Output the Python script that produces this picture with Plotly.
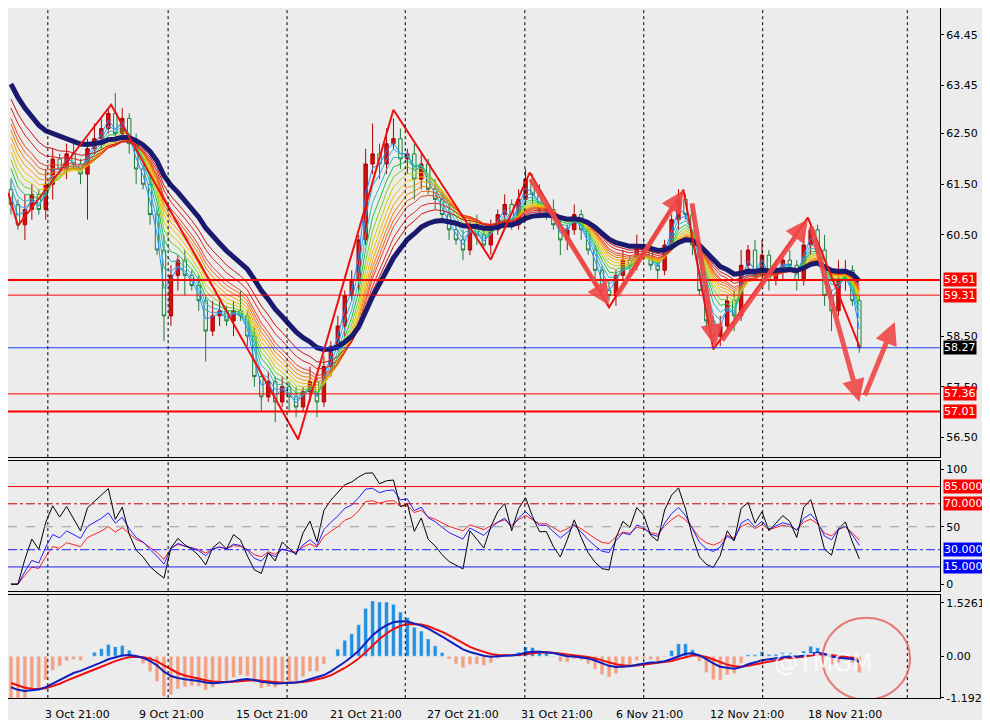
import plotly.graph_objects as go
from plotly.subplots import make_subplots
import numpy as np

history = [65.6, 65.4, 65.2, 65.0, 64.9, 64.7, 64.6, 64.4, 64.3, 64.0, 63.8, 63.5, 63.1, 62.7, 62.2, 61.7, 61.4]
closes = [61.1,60.7,61.0,61.3,61.0,61.5,62.0,61.8,62.1,61.9,61.7,62.2,62.4,62.6,62.9,62.5,62.8,62.3,61.8,61.5,
          60.9,60.2,58.9,59.7,60.0,59.7,59.5,59.2,58.6,58.9,59.0,58.8,59.0,58.9,58.5,57.7,57.3,57.6,57.2,57.5,
          57.3,57.1,57.4,57.6,57.2,57.9,58.3,58.7,59.3,59.6,60.4,61.9,62.1,61.9,62.3,62.4,62.0,62.1,61.6,61.9,
          61.4,61.2,60.9,60.6,60.4,60.2,60.7,60.5,60.3,60.6,60.9,61.1,60.7,61.2,61.6,61.3,61.0,61.0,60.7,60.4,
          60.6,60.9,60.6,60.2,59.8,59.4,59.3,59.7,60.0,59.9,60.3,60.2,59.9,59.8,60.3,60.8,61.2,60.9,60.3,59.4,
          58.8,58.5,58.7,59.2,58.9,59.9,60.2,59.7,60.1,59.6,59.8,60.0,59.9,59.6,60.3,60.6,60.2,59.3,59.0,59.6,
          59.8,59.2,58.27]
upper_wick = [0.2,0.1,0.3,0.2,0.1,0.3,0.2,0.1,0.2,0.3,0.1,0.2,0.3,0.2,0.1,0.4,0.2,0.1,0.2,0.1,
              0.2,0.1,0.3,0.2,0.1,0.2,0.1,0.2,0.1,0.3,0.2,0.1,0.2,0.4,0.1,0.2,0.1,0.2,0.1,0.2,
              0.1,0.2,0.1,0.3,0.1,0.2,0.1,0.2,0.1,0.2,0.1,0.3,0.6,0.2,0.3,0.4,0.2,0.1,0.2,0.2,
              0.1,0.2,0.1,0.2,0.1,0.2,0.1,0.2,0.1,0.2,0.1,0.2,0.1,0.2,0.2,0.1,0.2,0.1,0.2,0.1,
              0.1,0.2,0.1,0.1,0.1,0.1,0.2,0.1,0.2,0.1,0.2,0.1,0.2,0.1,0.1,0.1,0.2,0.1,0.2,0.1,
              0.2,0.1,0.2,0.1,0.2,0.3,0.1,0.2,0.3,0.1,0.2,0.1,0.2,0.1,0.2,0.1,0.1,0.3,0.1,0.4,
              0.2,0.1,0.1]
lower_wick = [0.2,0.1,0.3,0.2,0.1,0.2,0.3,0.1,0.2,0.1,0.2,0.9,0.1,0.2,0.1,0.2,0.1,0.2,0.3,0.1,
              0.2,0.1,0.5,0.2,0.3,0.4,0.1,0.2,0.6,0.1,0.2,0.1,0.3,0.1,0.2,0.2,0.3,0.1,0.4,0.1,
              0.3,0.2,0.1,0.2,0.3,0.1,0.2,0.1,0.2,0.1,0.2,0.1,0.2,0.3,0.2,0.1,0.2,0.3,0.4,0.2,
              0.1,0.2,0.1,0.2,0.1,0.2,0.1,0.2,0.1,0.2,0.1,0.2,0.1,0.1,0.1,0.2,0.1,0.2,0.1,0.3,
              0.2,0.1,0.2,0.1,0.2,0.1,0.1,0.2,0.1,0.2,0.1,0.2,0.1,0.2,0.1,0.1,0.2,0.1,0.2,0.1,
              0.2,0.1,0.2,0.1,0.3,0.1,0.2,0.1,0.2,0.2,0.1,0.2,0.1,0.2,0.1,0.2,0.1,0.2,0.4,0.1,
              0.2,0.1,0.1]

zigzag_x = [-0.4, 1, 14.4, 41.3, 55, 69, 74.6, 86, 96.7, 101, 114.6, 122.1]
zigzag_y = [61.33, 60.68, 63.07, 56.46, 62.97, 60.01, 61.73, 59.07, 61.39, 58.24, 60.84, 58.27]
arrows = [((74.6, 61.63), (86, 59.11)), ((87, 59.27), (96.7, 61.38)), ((97.9, 61.15), (101.3, 58.29)),
          ((102.1, 58.39), (114.6, 60.81)), ((115, 60.69), (122, 57.2)), ((122.7, 57.3), (127.1, 58.78))]
levels = [(59.61, 2, "red"), (59.31, 1, "red"), (58.27, 1, "#2040ff"), (57.36, 1, "red"), (57.01, 2, "red")]
level_labels = [(59.61, "#ff0000"), (59.31, "#ff0000"), (58.27, "#000000"), (57.36, "#ff0000"), (57.01, "#ff0000")]
price_ticks = [64.45, 63.45, 62.50, 61.50, 60.50, 58.50, 57.50, 56.50]
date_pos = [4.6, 18.1, 32, 45.6, 59.6, 73.1, 86.7, 100.3, 114.3]
date_labels = ["3 Oct 21:00", "9 Oct 21:00", "15 Oct 21:00", "21 Oct 21:00", "27 Oct 21:00",
               "31 Oct 21:00", "6 Nov 21:00", "12 Nov 21:00", "18 Nov 21:00"]
grid_pos = [5.3, 22.6, 39.7, 56.7, 73.9, 91, 108.1, 128.9]
ribbon_periods = [2, 3, 4, 5, 6, 7, 8, 9, 10, 11, 12, 14, 16]
ribbon_colors = ["#1e90ff", "#3aa0e0", "#20c0c0", "#20c040", "#7ad020", "#c8d000", "#f0c000",
                 "#f8a000", "#f08000", "#f06020", "#e84020", "#e02020", "#c81010"]
slow_period = 20

n = len(closes)
xs = np.arange(n)
full = np.array(history + closes)
opens = [history[-1]] + closes[:-1]
highs = [max(o, c) + u for o, c, u in zip(opens, closes, upper_wick)]
lows = [min(o, c) - l for o, c, l in zip(opens, closes, lower_wick)]

def ema(a, p):
    k = 2 / (p + 1); out = [a[0]]
    for v in a[1:]:
        out.append(out[-1] + k * (v - out[-1]))
    return np.array(out)

def rsi(a, p):
    d = np.diff(a); g = np.clip(d, 0, None); l = np.clip(-d, 0, None)
    ag, al = g[:p].mean(), l[:p].mean(); out = [np.nan] * (p + 1)
    for i in range(p, len(d)):
        ag = (ag * (p - 1) + g[i]) / p; al = (al * (p - 1) + l[i]) / p
        out.append(100 - 100 / (1 + ag / al) if al > 0 else 100)
    return np.array(out[:len(a)])

h = len(history)
fig = make_subplots(rows=3, cols=1, shared_xaxes=True, vertical_spacing=0.006,
                    row_heights=[450, 130, 103])
for p, c in zip(ribbon_periods, ribbon_colors):
    fig.add_trace(go.Scatter(x=xs, y=ema(full, p)[h:], mode="lines", line=dict(color=c, width=1)), 1, 1)
fig.add_trace(go.Scatter(x=xs, y=ema(full, slow_period)[h:], mode="lines",
                         line=dict(color="#1a1a6e", width=5)), 1, 1)
fig.add_trace(go.Candlestick(x=xs, open=opens, high=highs, low=lows, close=closes,
                             increasing=dict(line=dict(color="#b00000", width=1), fillcolor="#d01010"),
                             decreasing=dict(line=dict(color="#1f7a3a", width=1), fillcolor="#e8f4e8"),
                             whiskerwidth=0), 1, 1)
fig.add_trace(go.Scatter(x=zigzag_x, y=zigzag_y, mode="lines", line=dict(color="#ee1010", width=2)), 1, 1)
for y, w, c in levels:
    fig.add_hline(y=y, line=dict(color=c, width=w), row=1, col=1)

# RSI panel
for p, c in [(14, "#ff2020"), (9, "#2020ff"), (4, "#000000")]:
    fig.add_trace(go.Scatter(x=xs, y=rsi(full, p)[h:], mode="lines", line=dict(color=c, width=1)), 2, 1)
for y, c, d in [(85, "red", "solid"), (70, "#c00000", "dashdot"), (50, "#999999", "dash"),
                (30, "#2020ff", "dashdot"), (15, "#2020ff", "solid")]:
    fig.add_hline(y=y, line=dict(color=c, width=1, dash=d), row=2, col=1)

# MACD panel
macd = ema(full, 4) - ema(full, 13)
line_b = ema(ema(full, 8) - ema(full, 17), 3)
line_r = ema(line_b, 4)
hv = macd[h:]
fig.add_trace(go.Bar(x=xs, y=hv, marker_color=["#2090e0" if v >= 0 else "#f4a080" for v in hv],
                     width=0.55), 3, 1)
fig.add_trace(go.Scatter(x=xs, y=line_r[h:], mode="lines", line=dict(color="#ee1010", width=2)), 3, 1)
fig.add_trace(go.Scatter(x=xs, y=line_b[h:], mode="lines", line=dict(color="#1020c0", width=2)), 3, 1)

for (x0, y0), (x1, y1) in arrows:
    fig.add_annotation(x=x1, y=y1, ax=x0, ay=y0, xref="x", yref="y", axref="x", ayref="y",
                       showarrow=True, arrowhead=2, arrowsize=0.9, arrowwidth=5,
                       arrowcolor="rgba(240,70,70,0.9)", text="")
for y, c in level_labels:
    fig.add_annotation(x=1.003, xref="paper", y=y, yref="y", text=f"{y:.2f}", showarrow=False,
                       xanchor="left", bgcolor=c, font=dict(color="white", size=11, family="DejaVu Sans"),
                       borderpad=0)
for y, c, t in [(85, "#ff0000", "85.0000"), (70, "#ff0000", "70.0000"), (30, "#0000ff", "30.0000"), (15, "#0000ff", "15.0000")]:
    fig.add_annotation(x=1.003, xref="paper", y=y, yref="y2", text=t, showarrow=False, xanchor="left",
                       bgcolor=c, font=dict(color="white", size=11, family="DejaVu Sans"), borderpad=0)
for p, t in zip(date_pos, date_labels):
    fig.add_annotation(x=p, xref="x3", y=-0.012, yref="paper", text=t, showarrow=False,
                       xanchor="left", yanchor="top", font=dict(size=11, color="black", family="DejaVu Sans"))
fig.add_annotation(x=-0.5, xref="x3", y=-0.012, yref="paper", text="00", showarrow=False,
                   xanchor="left", yanchor="top", font=dict(size=11, color="black", family="DejaVu Sans"))
for g in grid_pos:
    for r in (1, 2, 3):
        fig.add_vline(x=g, line=dict(color="black", width=1, dash="dot"), row=r, col=1)
fig.add_shape(type="circle", xref="x3", yref="y3", x0=116.7, x1=129.3, y0=-1.25, y1=1.1,
              line=dict(color="rgba(230,90,90,0.8)", width=2))
fig.add_annotation(x=0.93, xref="paper", y=0.028, yref="paper", text="@TMGM", showarrow=False,
                   font=dict(size=24, color="rgba(255,255,255,0.8)", family="DejaVu Sans"))

ax_style = dict(side="right", showgrid=False, ticks="outside", ticklen=3, tickcolor="black",
                showline=True, linecolor="black", mirror=True, zeroline=False,
                tickfont=dict(size=11, color="black", family="DejaVu Sans"))
fig.update_yaxes(**ax_style)
fig.update_yaxes(range=[56.11, 64.98], tickvals=price_ticks, ticktext=[f"{v:.2f}" for v in price_ticks], row=1, col=1)
fig.update_yaxes(range=[-6, 107], tickvals=[0, 50, 100], row=2, col=1)
fig.update_yaxes(range=[-1.2, 1.75], tickvals=[-1.1922, 0, 1.5261], ticktext=["-1.1922", "0.00", "1.5261"], row=3, col=1)
fig.update_xaxes(range=[-0.43, 133.6], showgrid=False, showline=True, linecolor="black", mirror=True,
                 showticklabels=False, zeroline=False, rangeslider_visible=False)
fig.update_layout(width=990, height=720, margin=dict(l=0, r=58, t=0, b=30), showlegend=False,
                  plot_bgcolor="#ececec", paper_bgcolor="#ececec", bargap=0.3)
fig.write_html("out.html")
